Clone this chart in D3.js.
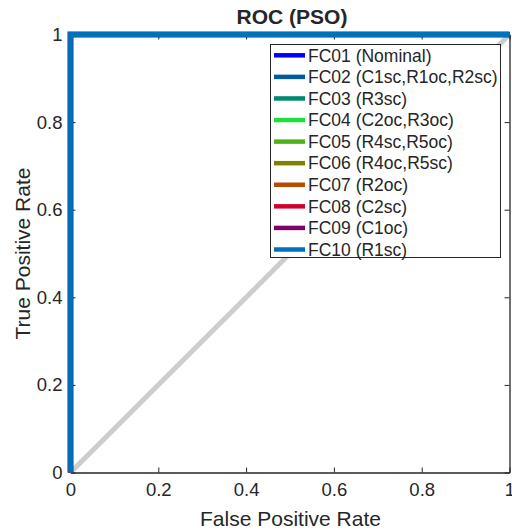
<!DOCTYPE html>
<html>
<head>
<meta charset="utf-8">
<script src="https://cdn.jsdelivr.net/npm/d3@7/dist/d3.min.js"></script>
<style>
  html, body { margin: 0; padding: 0; background: #fff; }
  text { font-family: "Liberation Sans", Arial, Helvetica, sans-serif; fill: #262626; }
</style>
</head>
<body>
<svg id="chart" width="512" height="530"></svg>
<script>
// ROC curves for each fault class (PSO classifier)
const classNames = [
  "FC01 (Nominal)", "FC02 (C1sc,R1oc,R2sc)", "FC03 (R3sc)", "FC04 (C2oc,R3oc)",
  "FC05 (R4sc,R5oc)", "FC06 (R4oc,R5sc)", "FC07 (R2oc)", "FC08 (C2sc)",
  "FC09 (C1oc)", "FC10 (R1sc)"
];
const classColors = [
  "#0000ff", "#005a9e", "#00896f", "#1ee03c", "#4cb41a",
  "#7f7f00", "#b84c00", "#d2002e", "#7f0066", "#0072bd"
];
// every class reaches a perfect separation: (0,0) -> (0,1) -> (1,1)
const rocFpr = [0, 0, 1];
const rocTpr = [0, 1, 1];
const chanceFpr = [0, 1];
const chanceTpr = [0, 1];
const tickValues = [0, 0.2, 0.4, 0.6, 0.8, 1];
const tickLabels = ["0", "0.2", "0.4", "0.6", "0.8", "1"];

const svg = d3.select("#chart");
const x = d3.scaleLinear().domain([0, 1]).range([70.5, 509.5]);
const y = d3.scaleLinear().domain([0, 1]).range([472.5, 34.5]);
const axisColor = "#262626";

const line = d3.line().x(d => x(d[0])).y(d => y(d[1]));

// chance diagonal
svg.append("path")
  .datum(d3.zip(chanceFpr, chanceTpr))
  .attr("d", line)
  .attr("fill", "none")
  .attr("stroke", "#cdcdcd")
  .attr("stroke-width", 5);

// axes: box with inward ticks
const tickLen = 5;
const axesG = svg.append("g");
const axBottom = axesG.append("g").attr("transform", `translate(0,${y(0)})`)
  .call(d3.axisBottom(x).tickValues(tickValues).tickFormat((d, i) => tickLabels[i]).tickSizeInner(-tickLen).tickSizeOuter(0).tickPadding(10));
const axLeft = axesG.append("g").attr("transform", `translate(${x(0)},0)`)
  .call(d3.axisLeft(y).tickValues(tickValues).tickFormat((d, i) => tickLabels[i]).tickSizeInner(-tickLen).tickSizeOuter(0).tickPadding(8));
axesG.append("g").attr("transform", `translate(0,${y(1)})`)
  .call(d3.axisTop(x).tickValues(tickValues).tickFormat("").tickSizeInner(-tickLen).tickSizeOuter(0));
axesG.append("g").attr("transform", `translate(${x(1)},0)`)
  .call(d3.axisRight(y).tickValues(tickValues).tickFormat("").tickSizeInner(-tickLen).tickSizeOuter(0));
axesG.selectAll(".domain").attr("stroke", axisColor).attr("stroke-width", 1.3);
axesG.selectAll(".tick line").attr("stroke", axisColor);
axesG.selectAll(".tick text").attr("font-size", 18.5).attr("fill", axisColor)
  .style("font-family", "'Liberation Sans', Arial, sans-serif");
axBottom.selectAll(".tick text").attr("dy", "0.72em");

// ROC curves
const curve = d3.zip(rocFpr, rocTpr);
classNames.forEach((name, i) => {
  svg.append("path")
    .datum(curve)
    .attr("d", line)
    .attr("fill", "none")
    .attr("stroke", classColors[i])
    .attr("stroke-width", i === 8 ? 6 : 4.8);
});

// title and axis labels
svg.append("text").attr("x", 292).attr("y", 24).attr("text-anchor", "middle")
  .attr("font-size", 21).attr("font-weight", "bold").attr("fill", "#000").text("ROC (PSO)");
svg.append("text").attr("x", 290.5).attr("y", 526).attr("text-anchor", "middle")
  .attr("font-size", 21).text("False Positive Rate");
svg.append("text").attr("transform", `translate(30,${y(0.5)}) rotate(-90)`).attr("text-anchor", "middle")
  .attr("font-size", 21).text("True Positive Rate");

// legend
const lg = svg.append("g");
lg.append("rect").attr("x", 270.5).attr("y", 44.5).attr("width", 230).attr("height", 213)
  .attr("fill", "#fff").attr("stroke", axisColor).attr("stroke-width", 1);
const rowY = d3.scaleLinear().domain([0, 9]).range([55.3, 249.5]);
classNames.forEach((name, i) => {
  lg.append("line").attr("x1", 274).attr("x2", 305).attr("y1", rowY(i)).attr("y2", rowY(i))
    .attr("stroke", classColors[i]).attr("stroke-width", 4.5);
  lg.append("text").attr("x", 308).attr("y", rowY(i)).attr("dy", "0.36em")
    .attr("font-size", 17.5).attr("fill", "#000").text(name);
});
</script>
</body>
</html>
